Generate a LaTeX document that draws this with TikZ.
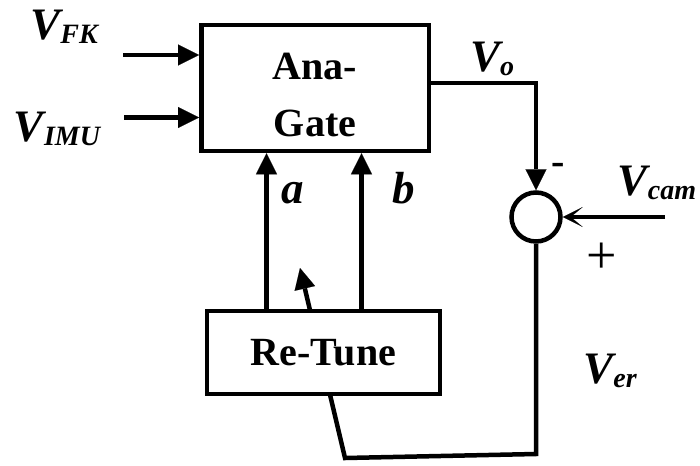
\documentclass[tikz,border=0pt]{standalone}
\usepackage{fontspec}
\setmainfont{Liberation Serif}
\usetikzlibrary{arrows.meta,backgrounds}
\newcommand{\Vsub}[1]{V\raisebox{-4pt}{\fontsize{28}{28}\selectfont #1}}
\begin{document}
\begin{tikzpicture}[x=1pt,y=-1pt, line width=4.5pt,
  arr/.style={-{Triangle[length=21pt,width=21pt,line width=0.1pt]}},
  camarr/.style={-{Stealth[length=20pt,width=20pt,inset=12pt,line width=0.1pt]}},
  blk/.style={draw, fill=white, rectangle, inner sep=0pt, font=\fontsize{40}{57}\selectfont\bfseries, align=center},
  vlbl/.style={inner sep=0pt, anchor=base, font=\fontsize{45}{54}\selectfont\bfseries\itshape},
  sumnode/.style={draw, circle, minimum size=49pt, inner sep=0pt}]
\useasboundingbox (0,0) rectangle (700,465);

\node[blk, minimum width=227.5pt, minimum height=126pt, text height=98pt, text depth=0pt] (ana) at (315,88) {Ana-\\Gate};
\node[blk, minimum width=233pt, minimum height=83pt] (rt) at (323.5,352.5) {Re-Tune};
\node[sumnode] (sum) at (536,217) {};

\node[vlbl] (lfk) at (64,40) {\Vsub{FK}};
\node[vlbl] (limu) at (57,142) {\Vsub{IMU}};
\node[vlbl] (lvo) at (492,72) {\Vsub{o}};
\node[vlbl] (lcam) at (657,195) {\Vsub{cam}};
\node[vlbl] (ler) at (610,383) {\Vsub{er}};
\node[vlbl] (la) at (293,203) {a};
\node[vlbl] (lb) at (404,203) {b};
\node[inner sep=0pt, anchor=base, font=\fontsize{40}{40}\selectfont\bfseries] (minus) at (558,174) {-};
\node[inner sep=0pt, anchor=base, font=\fontsize{54}{54}\selectfont] (plus) at (602,273) {+};

\coordinate (fk0) at (123,55);
\draw[arr] (fk0) -- (fk0 -| ana.west);
\coordinate (imu0) at (124,117.5);
\draw[arr] (imu0) -- (imu0 -| ana.west);
\coordinate (vo) at (536,83);
\draw[arr] (vo -| ana.east) -- (vo) -- (sum.north);
\coordinate (cam0) at (665,217);
\draw[camarr] (cam0) -- (sum.east);
\coordinate (ax) at (266.5,0);
\coordinate (bx) at (361.5,0);
\draw[arr] (rt.north -| ax) -- (ana.south -| ax);
\draw[arr] (rt.north -| bx) -- (ana.south -| bx);

\begin{scope}[on background layer]
\coordinate (f1) at (536,454);
\coordinate (f2) at (345,458);
\coordinate (f3) at (300,268);
\draw[arr, line width=4.5pt] (sum.south) -- (f1) -- (f2) -- (f3);
\end{scope}
\end{tikzpicture}
\end{document}
